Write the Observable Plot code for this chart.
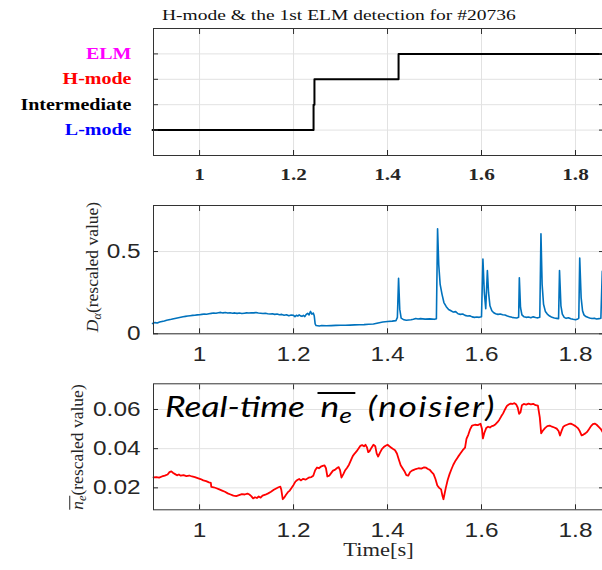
<!DOCTYPE html>
<html><head><meta charset="utf-8">
<script src="https://cdn.jsdelivr.net/npm/d3@7"></script>
<script src="https://cdn.jsdelivr.net/npm/@observablehq/plot@0.6"></script>
<style>
html,body{margin:0;padding:0;background:#fff;}
#root{position:relative;width:602px;height:570px;overflow:hidden;background:#fff;}
.panel{position:absolute;left:0;width:602px;}
.panel svg{display:block;}
.ylab{position:absolute;white-space:nowrap;font-family:"Liberation Serif",serif;font-size:17.5px;color:#262626;line-height:1;transform:translate(-50%,-50%) rotate(-90deg);}
.ylab sub{font-size:0.7em;vertical-align:-0.25em;line-height:0;}
.ylab .ovl{display:inline-block;border-top:1px solid #262626;line-height:0.8em;}
#title{position:absolute;left:162px;top:8px;font-family:"Liberation Serif",serif;font-size:15px;line-height:1;color:#111;white-space:nowrap;transform:scaleX(1.3);transform-origin:left center;}
#note{position:absolute;left:165px;top:391px;font-family:Lato,sans-serif;font-style:italic;font-size:29px;line-height:1;color:#000;white-space:nowrap;word-spacing:3px;transform:scaleX(1.22);transform-origin:left center;}
#note sub{font-size:0.75em;vertical-align:-0.28em;line-height:0;}
#note .ovl{display:inline-block;border-top:2px solid #000;line-height:0.8em;padding:0 3px;}
#note .nz{letter-spacing:1.3px;}
</style></head><body>
<div id="root">
  <div class="panel" id="p1" style="top:0px"></div>
  <div class="panel" id="p2" style="top:190px"></div>
  <div class="panel" id="p3" style="top:370px"></div>
  <div id="title">H-mode &amp; the 1st ELM detection for #20736</div>
  <div class="ylab" style="left:93px;top:267px"><i>D</i><sub><i>α</i></sub>(rescaled value)</div>
  <div class="ylab" style="left:78px;top:447px"><span class="ovl"><i>n</i><sub><i>e</i></sub></span>(rescaled value)</div>
  <div id="note">Real-time <span class="ovl">n<sub>e</sub></span> <span class="nz">(noisier)</span></div>
</div>
<script>
// ---------- data ----------
const xTicks = [1, 1.2, 1.4, 1.6, 1.8];
const levelNames = ["L-mode", "Intermediate", "H-mode", "ELM"];
const levelValues = [1, 2, 3, 4];
const levelColors = ["#0000ff", "#000000", "#ff0000", "#ff00ff"];

const stateTime  = [0.9, 1.2426, 1.2445, 1.4235, 1.87];
const stateLevel = [1, 2, 3, 4, 4];

const daTicks = [0, 0.5];
const daTime = [
  0.900,0.905,0.910,0.915,0.920,0.925,0.930,0.935,0.940,0.945,0.950,0.955,0.960,0.965,0.970,0.975,0.980,0.985,0.990,0.995,
  1.000,1.005,1.010,1.015,1.020,1.025,1.030,1.035,1.040,1.045,1.050,1.055,1.060,1.065,1.070,1.075,1.080,1.085,1.090,1.095,
  1.100,1.105,1.110,1.115,1.120,1.125,1.130,1.135,1.140,1.145,1.150,1.155,1.160,1.165,1.170,1.175,1.180,1.185,1.190,1.195,
  1.200,1.203,1.206,1.209,1.212,1.215,1.218,1.221,1.224,1.227,1.230,1.233,1.236,1.239,1.242,1.244,1.246,1.248,1.255,
  1.260,1.270,1.280,1.290,1.300,1.310,1.320,1.330,1.340,1.350,1.360,1.370,1.380,1.390,1.400,1.410,1.418,1.421,1.4235,1.426,1.429,
  1.435,1.440,1.450,1.455,1.460,1.465,1.470,1.480,1.490,1.500,1.504,1.5065,1.509,1.512,1.516,1.520,1.525,1.530,1.535,1.540,
  1.545,1.550,1.555,1.560,1.565,1.570,1.575,1.580,1.585,1.590,1.595,1.600,1.603,1.606,1.609,1.6125,1.615,1.618,1.622,1.626,
  1.630,1.635,1.640,1.645,1.650,1.655,1.660,1.665,1.670,1.675,1.679,1.6805,1.683,1.686,1.690,1.695,1.700,1.705,1.710,1.715,
  1.720,1.724,1.7265,1.729,1.732,1.736,1.740,1.745,1.750,1.755,1.760,1.764,1.766,1.769,1.772,1.776,1.780,1.785,1.790,1.795,
  1.800,1.805,1.807,1.809,1.812,1.815,1.818,1.822,1.826,1.830,1.835,1.840,1.845,1.850,1.854,1.857,1.860
];
const daValue = [
  0.063,0.068,0.066,0.072,0.075,0.078,0.082,0.085,0.088,0.092,0.095,0.098,0.101,0.104,0.106,0.108,0.110,0.112,0.113,0.115,
  0.116,0.118,0.120,0.119,0.122,0.124,0.126,0.125,0.128,0.130,0.127,0.129,0.126,0.128,0.125,0.127,0.124,0.126,0.123,0.125,
  0.127,0.126,0.128,0.127,0.129,0.126,0.125,0.123,0.125,0.122,0.120,0.122,0.118,0.120,0.116,0.118,0.113,0.116,0.110,0.114,
  0.112,0.104,0.113,0.108,0.115,0.109,0.106,0.112,0.105,0.118,0.124,0.115,0.136,0.119,0.126,0.110,0.060,0.050,0.047,
  0.050,0.049,0.050,0.051,0.052,0.052,0.053,0.054,0.055,0.056,0.058,0.060,0.066,0.072,0.075,0.077,0.080,0.100,0.337,0.150,0.095,
  0.085,0.082,0.085,0.088,0.093,0.090,0.092,0.089,0.091,0.088,0.092,0.638,0.420,0.300,0.240,0.190,0.165,0.148,0.140,0.132,
  0.135,0.122,0.118,0.120,0.112,0.108,0.110,0.103,0.100,0.102,0.100,0.104,0.455,0.250,0.152,0.384,0.250,0.170,0.140,0.128,
  0.122,0.118,0.120,0.116,0.114,0.108,0.104,0.100,0.098,0.096,0.100,0.340,0.160,0.115,0.104,0.100,0.102,0.098,0.103,0.099,
  0.097,0.100,0.608,0.300,0.180,0.135,0.120,0.108,0.100,0.096,0.094,0.092,0.384,0.170,0.120,0.100,0.094,0.098,0.092,0.088,
  0.085,0.090,0.095,0.461,0.220,0.140,0.115,0.105,0.100,0.096,0.093,0.095,0.090,0.092,0.095,0.380,0.200
];

const neTicks = [0.02, 0.04, 0.06];
const neTime = [
  0.902,0.908,0.914,0.920,0.926,0.932,0.936,0.940,0.944,0.948,0.952,0.956,0.960,0.966,0.972,0.978,0.984,0.990,0.996,1.002,
  1.008,1.014,1.020,1.024,1.025,1.030,1.036,1.042,1.048,1.054,1.060,1.066,1.072,1.078,1.084,1.090,1.096,1.102,1.106,1.110,
  1.114,1.118,1.122,1.126,1.130,1.134,1.140,1.146,1.152,1.158,1.164,1.168,1.172,1.174,1.177,1.180,1.184,1.188,1.192,1.196,
  1.200,1.204,1.208,1.212,1.216,1.220,1.226,1.232,1.238,1.242,1.246,1.250,1.254,1.258,1.262,1.266,1.269,1.272,1.276,1.280,
  1.284,1.288,1.292,1.296,1.299,1.302,1.306,1.310,1.314,1.318,1.322,1.326,1.330,1.334,1.338,1.342,1.346,1.350,1.353,1.356,
  1.359,1.362,1.366,1.370,1.374,1.377,1.380,1.384,1.388,1.392,1.396,1.400,1.404,1.408,1.412,1.416,1.420,1.424,1.428,1.432,
  1.436,1.440,1.444,1.448,1.452,1.456,1.460,1.466,1.472,1.478,1.482,1.486,1.490,1.494,1.498,1.502,1.506,1.510,1.514,1.517,
  1.519,1.521,1.524,1.528,1.532,1.536,1.540,1.545,1.550,1.555,1.560,1.565,1.568,1.572,1.576,1.580,1.586,1.592,1.598,1.601,
  1.603,1.606,1.610,1.614,1.618,1.622,1.626,1.630,1.634,1.638,1.642,1.646,1.650,1.654,1.658,1.662,1.666,1.670,1.674,1.677,
  1.680,1.683,1.686,1.690,1.695,1.700,1.705,1.710,1.715,1.720,1.724,1.727,1.730,1.735,1.740,1.745,1.750,1.755,1.760,1.764,
  1.767,1.770,1.774,1.778,1.782,1.786,1.790,1.795,1.800,1.805,1.809,1.813,1.817,1.821,1.825,1.829,1.833,1.837,1.841,1.845,
  1.850,1.854,1.858,1.862
];
const neValue = [
  0.0253,0.0255,0.0252,0.0258,0.0262,0.0268,0.0280,0.0284,0.0276,0.0270,0.0264,0.0268,0.0262,0.0265,0.0260,0.0263,0.0258,0.0255,0.0250,0.0245,
  0.0238,0.0234,0.0228,0.0226,0.0205,0.0203,0.0198,0.0192,0.0186,0.0180,0.0172,0.0166,0.0160,0.0158,0.0163,0.0168,0.0166,0.0171,0.0166,0.0158,
  0.0146,0.0152,0.0148,0.0156,0.0150,0.0160,0.0165,0.0172,0.0180,0.0190,0.0198,0.0203,0.0206,0.0190,0.0142,0.0150,0.0165,0.0178,0.0186,0.0200,
  0.0215,0.0232,0.0240,0.0245,0.0238,0.0246,0.0242,0.0252,0.0255,0.0262,0.0290,0.0304,0.0300,0.0308,0.0312,0.0315,0.0300,0.0258,0.0262,0.0275,
  0.0288,0.0292,0.0300,0.0306,0.0290,0.0252,0.0270,0.0290,0.0303,0.0318,0.0340,0.0362,0.0375,0.0386,0.0400,0.0414,0.0418,0.0412,0.0420,0.0408,
  0.0382,0.0388,0.0405,0.0420,0.0412,0.0375,0.0360,0.0380,0.0398,0.0408,0.0415,0.0420,0.0412,0.0405,0.0398,0.0392,0.0375,0.0345,0.0315,0.0300,
  0.0285,0.0265,0.0262,0.0280,0.0288,0.0292,0.0296,0.0300,0.0298,0.0305,0.0303,0.0296,0.0292,0.0280,0.0270,0.0245,0.0212,0.0200,0.0192,0.0158,
  0.0142,0.0165,0.0200,0.0240,0.0270,0.0295,0.0318,0.0340,0.0358,0.0375,0.0392,0.0405,0.0450,0.0472,0.0500,0.0518,0.0522,0.0520,0.0527,0.0500,
  0.0452,0.0480,0.0505,0.0512,0.0508,0.0515,0.0518,0.0525,0.0535,0.0548,0.0565,0.0580,0.0600,0.0618,0.0625,0.0630,0.0628,0.0632,0.0625,0.0610,
  0.0578,0.0585,0.0622,0.0628,0.0625,0.0630,0.0626,0.0629,0.0622,0.0620,0.0560,0.0478,0.0490,0.0505,0.0515,0.0518,0.0512,0.0508,0.0502,0.0490,
  0.0467,0.0488,0.0512,0.0518,0.0522,0.0526,0.0528,0.0522,0.0515,0.0505,0.0490,0.0468,0.0472,0.0478,0.0486,0.0500,0.0515,0.0525,0.0528,0.0522,
  0.0510,0.0500,0.0484,0.0480
];

// ---------- styling ----------
const xDomain = [0.902, 1.8596];
const FRAME = "#333333";
const GRID = "#e2e2e2";
const TXT = "#262626";
const SANS = "Liberation Sans, Arial, sans-serif";
const SERIF = "Liberation Serif, Times New Roman, serif";
const STRETCH = 1.25;
const fmt = d => String(d);

function stretchText(svg, s) {
  for (const t of svg.querySelectorAll("text")) {
    const x = parseFloat(t.getAttribute("x")) || 0;
    t.removeAttribute("x");
    const tr = t.getAttribute("transform") || "";
    t.setAttribute("transform", `${tr} translate(${x},0) scale(${s},1)`);
  }
}

function commonAxes(yTicks, bottomOpts) {
  return [
    Plot.frame({stroke: FRAME, strokeWidth: 1}),
    Plot.axisX(xTicks, {anchor: "bottom", tickSize: -5, tickFormat: fmt, label: null, color: TXT, ...bottomOpts}),
    Plot.axisX(xTicks, {anchor: "top", tickSize: -5, tickFormat: () => "", label: null, color: FRAME}),
    Plot.axisY(yTicks, {anchor: "right", tickSize: -5, tickFormat: () => "", label: null, color: FRAME})
  ];
}

// ---------- panel 1 ----------
const stateData = stateTime.map((t, i) => ({t, v: stateLevel[i]}));
const p1 = Plot.plot({
  width: 602, height: 190,
  marginTop: 28, marginBottom: 35, marginLeft: 153, marginRight: -1,
  color: {type: "identity"},
  x: {domain: xDomain},
  y: {domain: [0, 5]},
  marks: [
    Plot.gridX(xTicks, {stroke: GRID, strokeOpacity: 1}),
    Plot.gridY(levelValues, {stroke: GRID, strokeOpacity: 1}),
    Plot.line(stateData, {x: "t", y: "v", curve: "step-after", stroke: "#000", strokeWidth: 2}),
    ...commonAxes(levelValues, {tickPadding: 17.5, fontFamily: SERIF, fontWeight: "bold", fontSize: 17}),
    Plot.axisY(levelValues, {anchor: "left", tickSize: -5, tickFormat: () => "", label: null, color: FRAME}),
    Plot.text(levelNames, {
      frameAnchor: "left", y: (d, i) => levelValues[i], text: d => d,
      fill: (d, i) => levelColors[i], textAnchor: "end", dx: -22,
      fontFamily: SERIF, fontWeight: "bold", fontSize: 16
    })
  ]
});
stretchText(p1, STRETCH);
document.getElementById("p1").append(p1);

// ---------- panel 2 ----------
const daData = daTime.map((t, i) => ({t, v: daValue[i]}));
const p2 = Plot.plot({
  width: 602, height: 180,
  marginTop: 15, marginBottom: 36.7, marginLeft: 153, marginRight: -1,
  x: {domain: xDomain},
  y: {domain: [0, 0.78]},
  marks: [
    Plot.gridX(xTicks, {stroke: GRID, strokeOpacity: 1}),
    Plot.gridY(daTicks, {stroke: GRID, strokeOpacity: 1}),
    Plot.line(daData, {x: "t", y: "v", stroke: "#0072BD", strokeWidth: 1.6}),
    ...commonAxes(daTicks, {tickPadding: 18.5, fontFamily: SANS, fontSize: 19.5}),
    Plot.axisY(daTicks, {anchor: "left", tickSize: -5, tickPadding: 18, tickFormat: fmt, label: null, color: TXT, fontFamily: SANS, fontSize: 19.5})
  ]
});
stretchText(p2, STRETCH);
document.getElementById("p2").append(p2);

// ---------- panel 3 ----------
const neData = neTime.map((t, i) => ({t, v: neValue[i]}));
const p3 = Plot.plot({
  width: 602, height: 200,
  marginTop: 13.3, marginBottom: 60.7, marginLeft: 153, marginRight: -1,
  x: {domain: xDomain},
  y: {domain: [0.0088, 0.0731]},
  marks: [
    Plot.gridX(xTicks, {stroke: GRID, strokeOpacity: 1}),
    Plot.gridY(neTicks, {stroke: GRID, strokeOpacity: 1}),
    Plot.line(neData, {x: "t", y: "v", stroke: "#ff0000", strokeWidth: 1.8}),
    ...commonAxes(neTicks, {tickPadding: 18.5, fontFamily: SANS, fontSize: 19.5}),
    Plot.axisY(neTicks, {anchor: "left", tickSize: -5, tickPadding: 18, tickFormat: fmt, label: null, color: TXT, fontFamily: SANS, fontSize: 19.5}),
    Plot.text(["Time[s]"], {frameAnchor: "bottom", lineAnchor: "top", dy: 33, text: d => d, fill: TXT, fontFamily: SERIF, fontSize: 18})
  ]
});
stretchText(p3, STRETCH);
document.getElementById("p3").append(p3);
</script>
</body></html>
